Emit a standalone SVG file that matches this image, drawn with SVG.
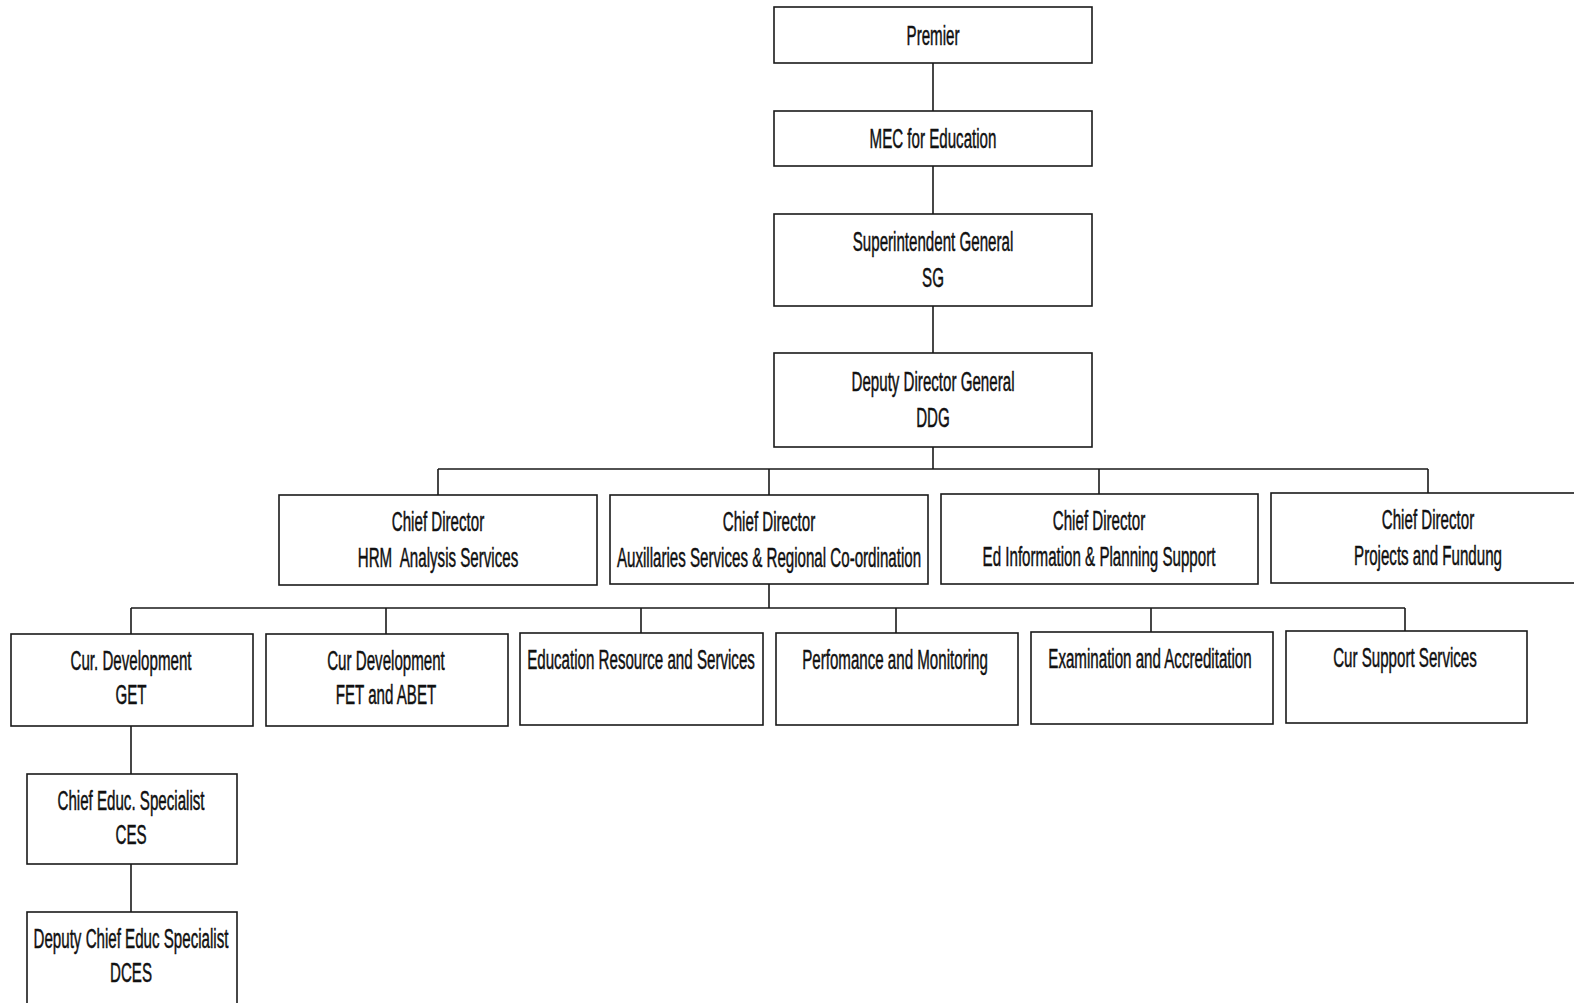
<svg xmlns="http://www.w3.org/2000/svg" width="1574" height="1003" viewBox="0 0 1574 1003">
<style>
.box{fill:#fff;stroke:#1a1a1a;stroke-width:1.6}
.c{fill:none;stroke:#1a1a1a;stroke-width:1.6}
text{font-family:"Liberation Sans",Arial,sans-serif;font-size:27px;fill:#111;stroke:#111;stroke-width:0.5;text-anchor:middle}
</style>
<rect width="1574" height="1003" fill="#fff"/>
<g id="connectors">
<path class="c" d="M933 63V111M933 166V214M933 306V353M933 447V469M438 469H1428M438 469V495M769 469V495M1099 469V494M1428 469V493"/>
<path class="c" d="M769 584V608M131 608H1405M131 608V634M386 608V634M641 608V633M896 608V633M1151 608V632M1405 608V631"/>
<path class="c" d="M131 726V774M131 864V912"/>
</g>
<g id="premier"><rect class="box" x="774" y="7" width="318" height="56"/><text transform="translate(933,45) scale(0.56,1)">Premier</text></g>
<g id="mec"><rect class="box" x="774" y="111" width="318" height="55"/><text transform="translate(933,148) scale(0.56,1)">MEC for Education</text></g>
<g id="sg"><rect class="box" x="774" y="214" width="318" height="92"/><text transform="translate(933,251) scale(0.56,1)">Superintendent General</text><text transform="translate(933,287) scale(0.56,1)">SG</text></g>
<g id="ddg"><rect class="box" x="774" y="353" width="318" height="94"/><text transform="translate(933,391) scale(0.56,1)">Deputy Director General</text><text transform="translate(933,427) scale(0.56,1)">DDG</text></g>
<g id="cd-hrm"><rect class="box" x="279" y="495" width="318" height="90"/><text transform="translate(438,531) scale(0.56,1)">Chief Director</text><text transform="translate(438,567) scale(0.56,1)" xml:space="preserve">HRM  Analysis Services</text></g>
<g id="cd-aux"><rect class="box" x="610" y="495" width="318" height="89"/><text transform="translate(769,531) scale(0.56,1)">Chief Director</text><text transform="translate(769,567) scale(0.56,1)">Auxillaries Services &amp; Regional Co-ordination</text></g>
<g id="cd-edinfo"><rect class="box" x="941" y="494" width="317" height="90"/><text transform="translate(1099,530) scale(0.56,1)">Chief Director</text><text transform="translate(1099,566) scale(0.56,1)">Ed Information &amp; Planning Support</text></g>
<g id="cd-projects"><rect class="box" x="1271" y="493" width="320" height="90"/><text transform="translate(1428,529) scale(0.56,1)">Chief Director</text><text transform="translate(1428,565) scale(0.56,1)">Projects and Fundung</text></g>
<g id="cur-get"><rect class="box" x="11" y="634" width="242" height="92"/><text transform="translate(131,670) scale(0.56,1)">Cur. Development</text><text transform="translate(131,704) scale(0.56,1)">GET</text></g>
<g id="cur-fet"><rect class="box" x="266" y="634" width="242" height="92"/><text transform="translate(386,670) scale(0.56,1)">Cur Development</text><text transform="translate(386,704) scale(0.56,1)">FET and ABET</text></g>
<g id="edres"><rect class="box" x="520" y="633" width="243" height="92"/><text transform="translate(641,669) scale(0.56,1)">Education Resource and Services</text></g>
<g id="perf"><rect class="box" x="776" y="633" width="242" height="92"/><text transform="translate(895,669) scale(0.56,1)">Perfomance and Monitoring</text></g>
<g id="exam"><rect class="box" x="1031" y="632" width="242" height="92"/><text transform="translate(1150,668) scale(0.56,1)">Examination and Accreditation</text></g>
<g id="cursup"><rect class="box" x="1286" y="631" width="241" height="92"/><text transform="translate(1405,667) scale(0.56,1)">Cur Support Services</text></g>
<g id="ces"><rect class="box" x="27" y="774" width="210" height="90"/><text transform="translate(131,810) scale(0.56,1)">Chief Educ. Specialist</text><text transform="translate(131,844) scale(0.56,1)">CES</text></g>
<g id="dces"><rect class="box" x="27" y="912" width="210" height="100"/><text transform="translate(131,948) scale(0.56,1)">Deputy Chief Educ Specialist</text><text transform="translate(131,982) scale(0.56,1)">DCES</text></g>
</svg>
